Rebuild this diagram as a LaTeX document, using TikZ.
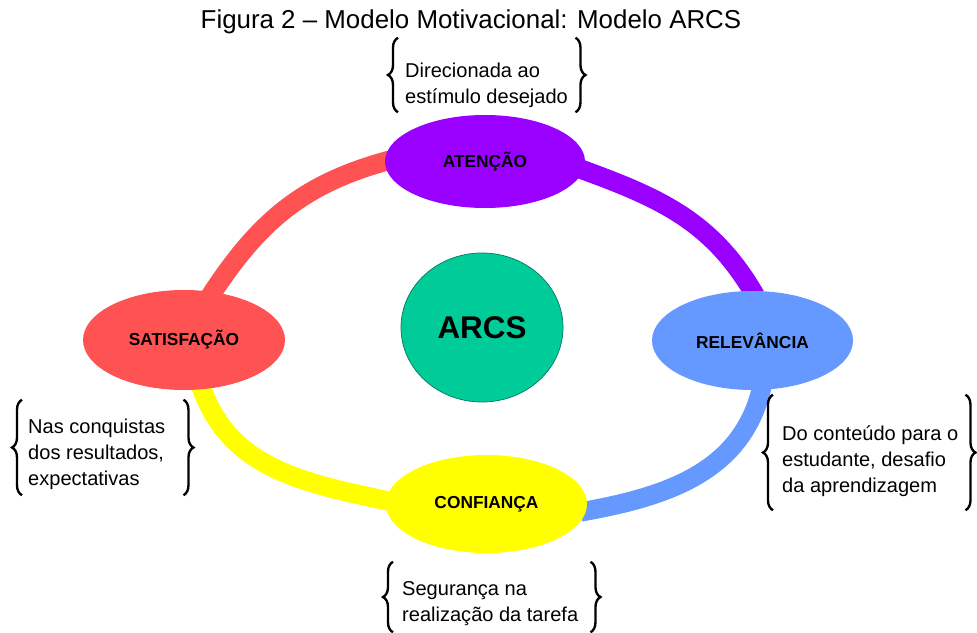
\documentclass[tikz,border=0pt]{standalone}
\usepackage{fontspec}
\setmainfont{Liberation Sans}
\usetikzlibrary{shapes.geometric,decorations.pathreplacing,backgrounds}
\definecolor{satcolor}{RGB}{255,82,82}
\definecolor{atecolor}{RGB}{153,0,255}
\definecolor{relcolor}{RGB}{102,153,255}
\definecolor{concolor}{RGB}{255,255,0}
\definecolor{arcscolor}{RGB}{0,204,153}
\hyphenpenalty=10000

\begin{document}
\begin{tikzpicture}[x=0.03cm, y=0.03cm,
    phase/.style={ellipse, inner sep=0pt, font=\fontsize{14.8}{17}\selectfont\bfseries},
    link/.style={line width=16.5pt, shorten <=-5pt, shorten >=-5pt},
    note/.style={anchor=west, align=flush left, inner sep=0pt, font=\fontsize{17.1}{22.4}\selectfont},
    notebrace/.style={decorate, decoration={brace, amplitude=0.3cm}, line width=2pt}]
    \useasboundingbox (0,0) rectangle (977,632);
    \node (title) at (471,610) {\fontsize{22.1}{26}\selectfont Figura 2 – Modelo Motivacional: Modelo ARCS};

    % the four phases round the centre
    \node[phase, fill=atecolor, minimum width=6.0cm, minimum height=2.79cm] (ate) at (485,470.5) {ATENÇÃO};
    \node[phase, fill=satcolor, minimum width=6.06cm, minimum height=3.0cm] (sat) at (184,292) {SATISFAÇÃO};
    \node[phase, fill=relcolor, minimum width=6.03cm, minimum height=2.97cm] (rel) at (752.5,291.5) {RELEVÂNCIA};
    \node[phase, fill=concolor, minimum width=6.03cm, minimum height=2.94cm] (con) at (486.5,128) {CONFIANÇA};
    \node[ellipse, fill=arcscolor, draw=arcscolor!60!black, line width=0.6pt, minimum width=4.86cm, minimum height=4.47cm, inner sep=0pt, font=\fontsize{26.8}{30}\selectfont\bfseries] (arcs) at (482,304.5) {ARCS};

    \begin{scope}[on background layer]
        \draw[link, satcolor] (sat.59) to[out=57, in=195] (ate.west);
        \draw[link, atecolor] (ate.-5) to[out=-20, in=120] (rel.north);
        \draw[link, concolor] (sat.-70) to[out=-72, in=168] (con.178);
        \draw[link, relcolor] (rel.-80) to[out=-102, in=10] (con.-4);
    \end{scope}

    % notes with braces
    \node[note, text width=5.1cm, minimum height=2.22cm] (nate) at (405,547) {Direcionada ao\\estímulo desejado};
    \node[note, text width=4.65cm, minimum height=2.85cm] (nsat) at (28,177.5) {Nas conquistas\\dos resultados,\\expectativas};
    \node[note, text width=5.49cm, minimum height=3.45cm] (nrel) at (782,171) {Do conteúdo para o\\estudante, desafio\\da aprendizagem};
    \node[note, text width=5.64cm, minimum height=2.1cm] (ncon) at (402,28.3) {Segurança na\\realização da tarefa};
    \foreach \n/\g/\s in {nate/0.21/0.3, nsat/0.18/0.21, nrel/0.27/0.255, ncon/0.27/0.2} {
        \draw[notebrace] ([xshift=-\g cm, yshift=\s cm]\n.south west) -- ([xshift=-\g cm, yshift=\s cm]\n.north west);
        \draw[notebrace] ([yshift=\s cm]\n.north east) -- ([yshift=\s cm]\n.south east);
    }
\end{tikzpicture}
\end{document}
